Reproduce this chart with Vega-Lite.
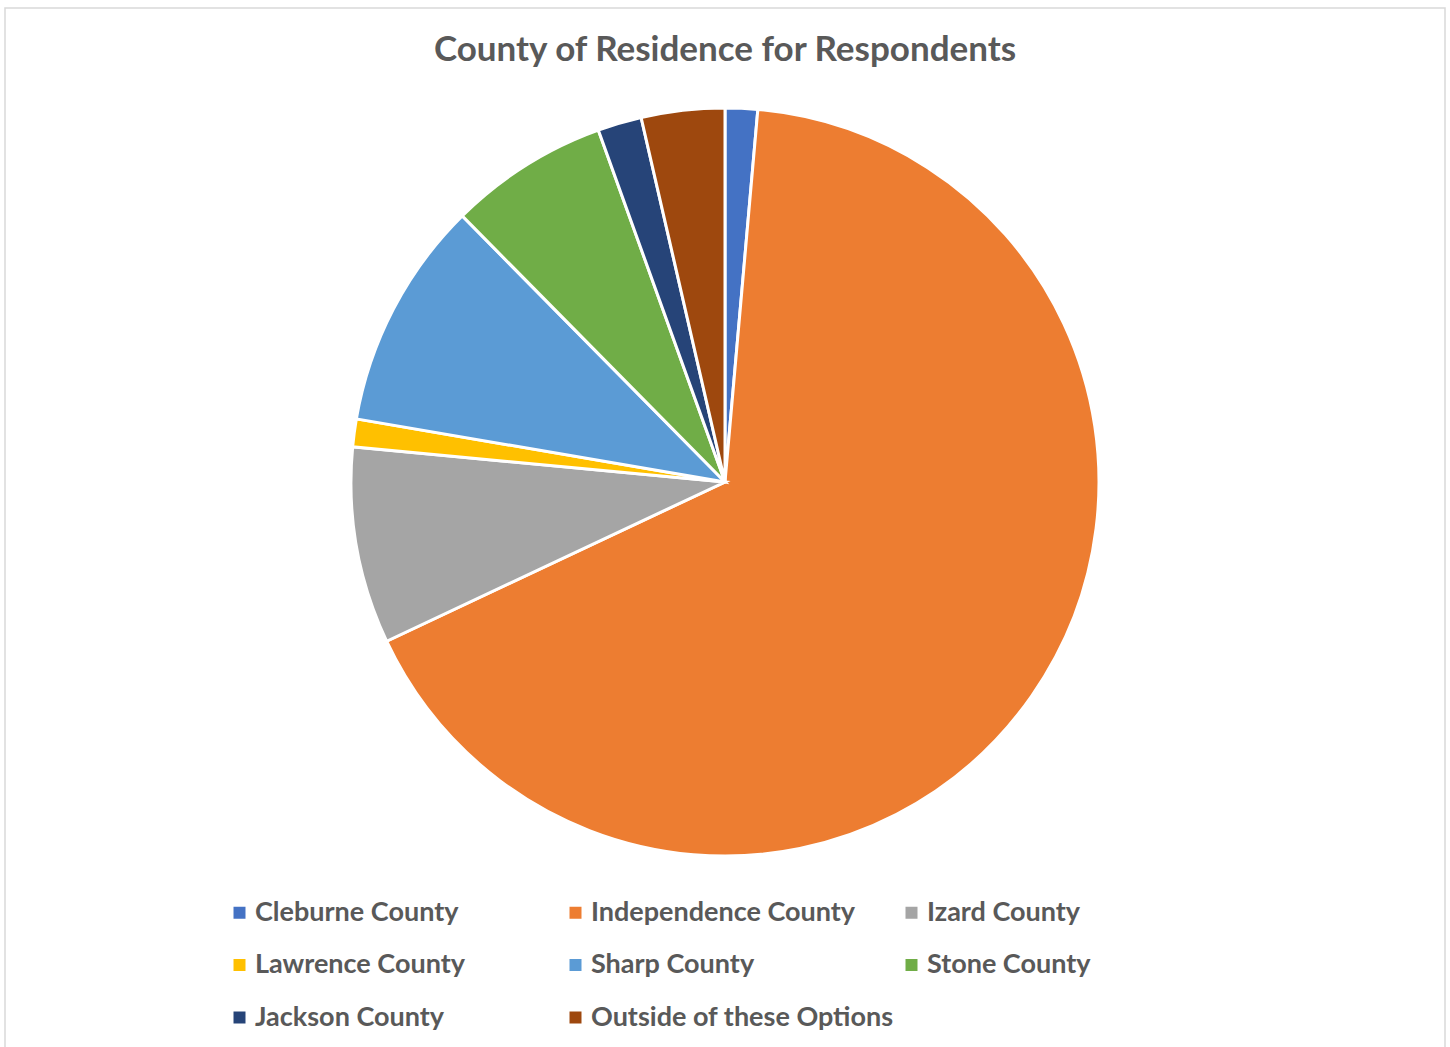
{
  "$schema": "https://vega.github.io/schema/vega-lite/v6.json",
  "autosize": {"type": "none"},
  "width": 1440,
  "height": 1042,
  "padding": {"left": 5, "top": 8, "right": 5, "bottom": -3},
  "background": "white",
  "view": {"stroke": "#d9d9d9", "strokeWidth": 1.5},
  "config": {
    "view": {"stroke": "#d9d9d9", "strokeWidth": 1.5},
    "font": "Lato"
  },
  "title": {
    "text": "County of Residence for Respondents",
    "font": "Lato",
    "fontSize": 35,
    "fontWeight": "bold",
    "color": "#595959",
    "anchor": "middle",
    "baseline": "alphabetic",
    "offset": -88
  },
  "data": {
    "values": [
      {"county": "Cleburne County", "share": 1.4},
      {"county": "Independence County", "share": 66.6},
      {"county": "Izard County", "share": 8.5},
      {"county": "Lawrence County", "share": 1.2},
      {"county": "Sharp County", "share": 9.9},
      {"county": "Stone County", "share": 6.9},
      {"county": "Jackson County", "share": 1.9},
      {"county": "Outside of these Options", "share": 3.6}
    ]
  },
  "transform": [{"window": [{"op": "row_number", "as": "slice_order"}]}],
  "mark": {
    "type": "arc",
    "outerRadius": 374,
    "stroke": "white",
    "strokeWidth": 3,
    "yOffset": -47
  },
  "encoding": {
    "theta": {"field": "share", "type": "quantitative", "stack": true},
    "order": {"field": "slice_order", "type": "quantitative"},
    "color": {
      "field": "county",
      "type": "nominal",
      "sort": null,
      "scale": {
        "domain": ["Cleburne County", "Independence County", "Izard County", "Lawrence County", "Sharp County", "Stone County", "Jackson County", "Outside of these Options"],
        "range": ["#4472c4", "#ed7d31", "#a5a5a5", "#ffc000", "#5b9bd5", "#70ad47", "#264478", "#9e480e"]
      },
      "legend": {
        "title": null,
        "orient": "none",
        "legendX": 221,
        "legendY": 891,
        "columns": 3,
        "direction": "horizontal",
        "gridAlign": "all",
        "padding": 0,
        "symbolType": "square",
        "symbolSize": 144,
        "symbolStrokeWidth": 0,
        "symbolOpacity": 1,
        "labelFont": "Lato",
        "labelFontSize": 27,
        "labelFontWeight": "bold",
        "labelColor": "#595959",
        "labelOffset": 2,
        "labelLimit": 0,
        "columnPadding": 4,
        "rowPadding": 24.5
      }
    }
  }
}
